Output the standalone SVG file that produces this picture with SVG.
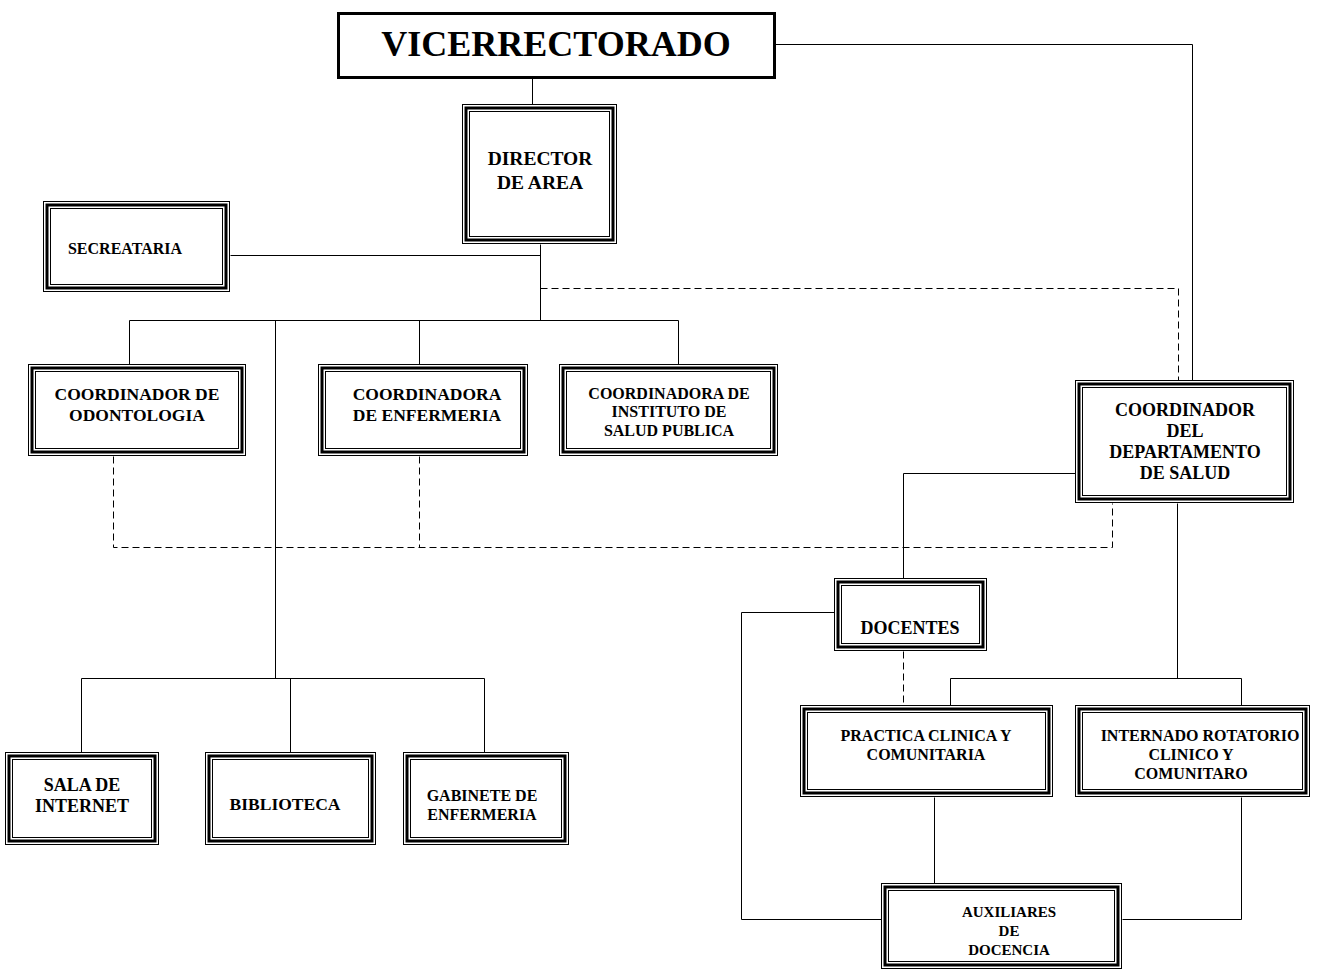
<svg xmlns="http://www.w3.org/2000/svg" width="1330" height="970" viewBox="0 0 1330 970">
<style>
.o{fill:#fff;stroke:#000;stroke-width:1}
.m{fill:none;stroke:#000;stroke-width:3}
.i{fill:none;stroke:#000;stroke-width:1}
.t{font-family:"Liberation Serif","Times New Roman",serif;font-weight:bold;fill:#000;text-anchor:middle}
.s{fill:none;stroke:#000;stroke-width:1}
.d{fill:none;stroke:#000;stroke-width:1;stroke-dasharray:7,4}
</style>
<rect width="1330" height="970" fill="#fff"/>
<g id="connectors" transform="translate(0.5,0.5)">
<path class="s" d="M532,78V104M775,44H1192V380M540,244V320M230,255H540M129,364V320H678V364M419,320V364M275,320V678M81,752V678H484V752M290,678V752"/>
<path class="d" d="M540,288H1178V380M113,456V547H1112V503M419,456V547M903,651V705"/>
<path class="s" d="M1075,473H903V578M1177,503V678M950,705V678H1241V705M834,612H741V919H881M934,797V883M1241,797V919H1122"/>
</g>
<g id="vicerrectorado">
<rect x="338.5" y="13.5" width="436" height="64" fill="#fff" stroke="#000" stroke-width="3"/>
<text class="t" x="556" y="56" font-size="36">VICERRECTORADO</text>
</g>
<g id="director">
<rect class="o" x="462.5" y="104.5" width="154" height="139"/><rect class="m" x="466" y="108" width="147" height="132"/><rect class="i" x="469.5" y="111.5" width="140" height="125"/>
<text class="t" x="540" y="165" font-size="19.5">DIRECTOR</text><text class="t" x="540" y="189" font-size="19.5">DE AREA</text>
</g>
<g id="secretaria">
<rect class="o" x="43.5" y="201.5" width="186" height="90"/><rect class="m" x="47" y="205" width="179" height="83"/><rect class="i" x="50.5" y="208.5" width="172" height="76"/>
<text class="t" x="125" y="254" font-size="16">SECREATARIA</text>
</g>
<g id="odontologia">
<rect class="o" x="28.5" y="364.5" width="217" height="91"/><rect class="m" x="32" y="368" width="210" height="84"/><rect class="i" x="35.5" y="371.5" width="203" height="77"/>
<text class="t" x="137" y="400" font-size="17.5">COORDINADOR DE</text><text class="t" x="137" y="421" font-size="17.5">ODONTOLOGIA</text>
</g>
<g id="enfermeria">
<rect class="o" x="318.5" y="364.5" width="209" height="91"/><rect class="m" x="322" y="368" width="202" height="84"/><rect class="i" x="325.5" y="371.5" width="195" height="77"/>
<text class="t" x="427" y="400" font-size="17.5">COORDINADORA</text><text class="t" x="427" y="421" font-size="17.5">DE ENFERMERIA</text>
</g>
<g id="instituto">
<rect class="o" x="559.5" y="364.5" width="218" height="91"/><rect class="m" x="563" y="368" width="211" height="84"/><rect class="i" x="566.5" y="371.5" width="204" height="77"/>
<text class="t" x="669" y="399" font-size="16">COORDINADORA DE</text><text class="t" x="669" y="417" font-size="16">INSTITUTO DE</text><text class="t" x="669" y="436" font-size="16">SALUD PUBLICA</text>
</g>
<g id="coordinador-salud">
<rect class="o" x="1075.5" y="380.5" width="218" height="122"/><rect class="m" x="1079" y="384" width="211" height="115"/><rect class="i" x="1082.5" y="387.5" width="204" height="108"/>
<text class="t" x="1185" y="416" font-size="18">COORDINADOR</text><text class="t" x="1185" y="437" font-size="18">DEL</text><text class="t" x="1185" y="458" font-size="18">DEPARTAMENTO</text><text class="t" x="1185" y="479" font-size="18">DE SALUD</text>
</g>
<g id="docentes">
<rect class="o" x="834.5" y="578.5" width="152" height="72"/><rect class="m" x="838" y="582" width="145" height="65"/><rect class="i" x="841.5" y="585.5" width="138" height="58"/>
<text class="t" x="910" y="634" font-size="18">DOCENTES</text>
</g>
<g id="practica">
<rect class="o" x="800.5" y="705.5" width="252" height="91"/><rect class="m" x="804" y="709" width="245" height="84"/><rect class="i" x="807.5" y="712.5" width="238" height="77"/>
<text class="t" x="926" y="741" font-size="16">PRACTICA CLINICA Y</text><text class="t" x="926" y="760" font-size="16">COMUNITARIA</text>
</g>
<g id="internado">
<rect class="o" x="1075.5" y="705.5" width="234" height="91"/><rect class="m" x="1079" y="709" width="227" height="84"/><rect class="i" x="1082.5" y="712.5" width="220" height="77"/>
<text class="t" x="1200" y="741" font-size="16">INTERNADO ROTATORIO</text><text class="t" x="1191" y="760" font-size="16">CLINICO Y</text><text class="t" x="1191" y="779" font-size="16">COMUNITARO</text>
</g>
<g id="auxiliares">
<rect class="o" x="881.5" y="883.5" width="240" height="85"/><rect class="m" x="885" y="887" width="233" height="78"/><rect class="i" x="888.5" y="890.5" width="226" height="71"/>
<text class="t" x="1009" y="917" font-size="15">AUXILIARES</text><text class="t" x="1009" y="936" font-size="15">DE</text><text class="t" x="1009" y="955" font-size="15">DOCENCIA</text>
</g>
<g id="sala-internet">
<rect class="o" x="5.5" y="752.5" width="153" height="92"/><rect class="m" x="9" y="756" width="146" height="85"/><rect class="i" x="12.5" y="759.5" width="139" height="78"/>
<text class="t" x="82" y="791" font-size="18">SALA DE</text><text class="t" x="82" y="812" font-size="18">INTERNET</text>
</g>
<g id="biblioteca">
<rect class="o" x="205.5" y="752.5" width="170" height="92"/><rect class="m" x="209" y="756" width="163" height="85"/><rect class="i" x="212.5" y="759.5" width="156" height="78"/>
<text class="t" x="285" y="810" font-size="17.5">BIBLIOTECA</text>
</g>
<g id="gabinete">
<rect class="o" x="403.5" y="752.5" width="165" height="92"/><rect class="m" x="407" y="756" width="158" height="85"/><rect class="i" x="410.5" y="759.5" width="151" height="78"/>
<text class="t" x="482" y="801" font-size="16">GABINETE DE</text><text class="t" x="482" y="820" font-size="16">ENFERMERIA</text>
</g>
</svg>
